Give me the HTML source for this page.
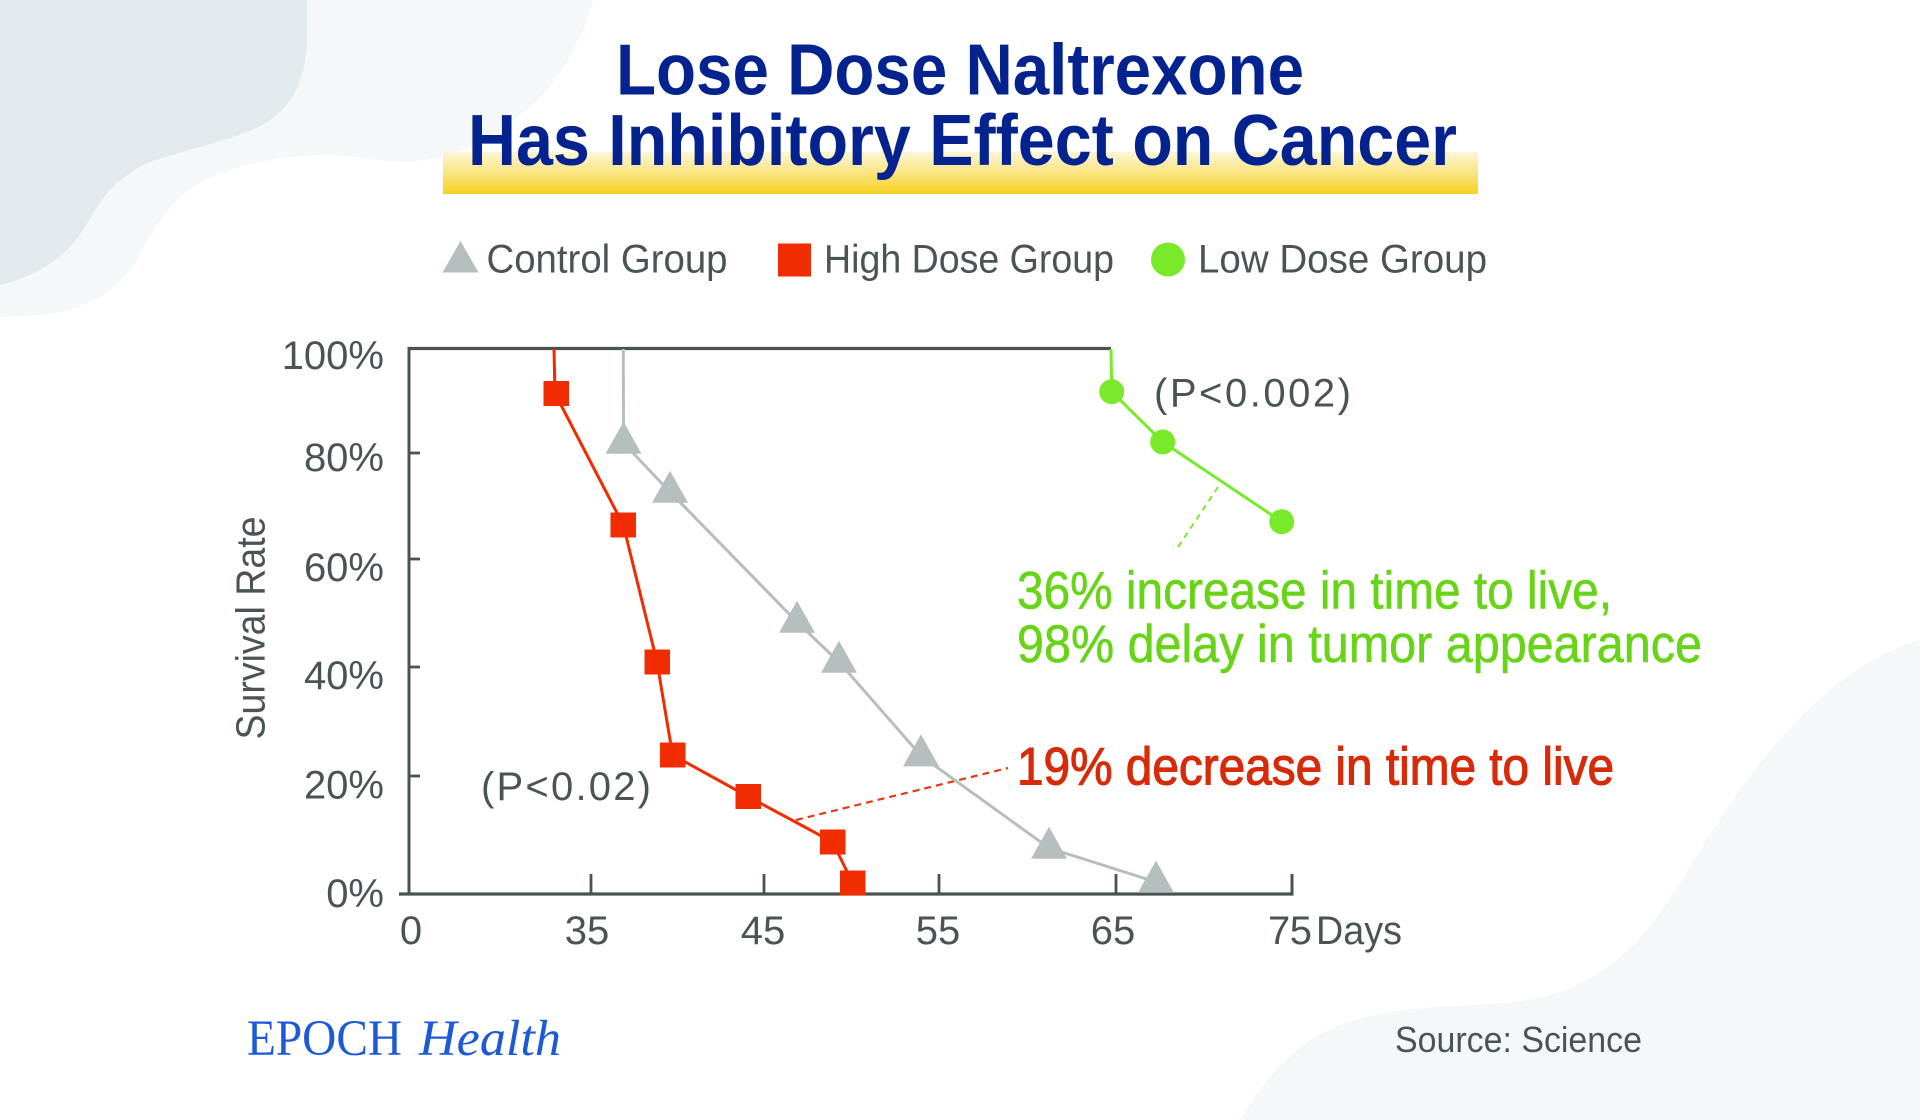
<!DOCTYPE html>
<html>
<head>
<meta charset="utf-8">
<style>
  html,body{margin:0;padding:0;background:#ffffff;width:1920px;height:1120px;overflow:hidden;}
  svg{display:block;}
</style>
</head>
<body>
<svg width="1920" height="1120" viewBox="0 0 1920 1120" xmlns="http://www.w3.org/2000/svg" font-family="'Liberation Sans', Arial, sans-serif">
  <defs>
    <linearGradient id="yel" x1="0" y1="0" x2="0" y2="1">
      <stop offset="0" stop-color="#fdf7d6"/>
      <stop offset="0.45" stop-color="#fae68a"/>
      <stop offset="1" stop-color="#f8d21f"/>
    </linearGradient>
  </defs>

  <!-- background -->
  <rect x="0" y="0" width="1920" height="1120" fill="#ffffff"/>
  <path d="M0 0 L594 0 C580 45 555 90 520 115 C490 140 450 160 408 162 C380 162 350 154 320 155 C280 156 235 165 205 180 C175 195 155 225 138 258 C122 288 90 310 41 315 L0 317 Z" fill="#f5f8f9"/>
  <path d="M0 0 L307 0 L307 40 C305 75 298 100 270 120 C245 138 200 145 150 162 C115 178 100 200 88 222 C70 255 40 275 0 285 Z" fill="#e3eaee"/>
  <path d="M1920 640 C1850 660 1790 720 1740 790 C1690 860 1660 930 1610 965 C1570 995 1530 1003 1470 1005 C1400 1008 1350 1015 1310 1040 C1275 1065 1255 1095 1240 1120 L1920 1120 Z" fill="#f5f8f9"/>

  <!-- title -->
  <rect x="443" y="152" width="1035" height="42" fill="url(#yel)"/>
  <text x="616" y="94.5" font-size="72" font-weight="bold" fill="#05238e" textLength="688" lengthAdjust="spacingAndGlyphs">Lose Dose Naltrexone</text>
  <text x="468" y="165" font-size="72" font-weight="bold" fill="#05238e" textLength="989" lengthAdjust="spacingAndGlyphs">Has Inhibitory Effect on Cancer</text>

  <!-- legend -->
  <polygon points="460.5,241 478.5,272.5 442.5,272.5" fill="#b7bebe"/>
  <text x="486.5" y="272.3" font-size="40" fill="#4b5455" textLength="241" lengthAdjust="spacingAndGlyphs">Control Group</text>
  <rect x="778" y="243.5" width="33" height="33" fill="#f02c00"/>
  <text x="824" y="272.3" font-size="40" fill="#4b5455" textLength="290" lengthAdjust="spacingAndGlyphs">High Dose Group</text>
  <circle cx="1168" cy="259.5" r="17" fill="#78ea2a"/>
  <text x="1198" y="272.3" font-size="40" fill="#4b5455" textLength="289" lengthAdjust="spacingAndGlyphs">Low Dose Group</text>

  <!-- axes -->
  <g stroke="#4a5354" fill="none">
    <line x1="407.5" y1="348.5" x2="1111" y2="348.5" stroke-width="3.3"/>
    <line x1="409" y1="347" x2="409" y2="895.5" stroke-width="3"/>
    <line x1="399" y1="894" x2="1293.5" y2="894" stroke-width="3.3"/>
    <line x1="1292" y1="874" x2="1292" y2="895" stroke-width="3"/>
    <g stroke-width="2.8">
      <line x1="409" y1="453" x2="420" y2="453"/>
      <line x1="409" y1="559" x2="420" y2="559"/>
      <line x1="409" y1="667" x2="420" y2="667"/>
      <line x1="409" y1="776" x2="420" y2="776"/>
      <line x1="591" y1="874" x2="591" y2="894"/>
      <line x1="764" y1="874" x2="764" y2="894"/>
      <line x1="939" y1="874" x2="939" y2="894"/>
      <line x1="1116" y1="874" x2="1116" y2="894"/>
    </g>
  </g>

  <!-- y labels -->
  <g font-size="40" fill="#4b5455" text-anchor="end">
    <text x="384" y="369">100%</text>
    <text x="384" y="471">80%</text>
    <text x="384" y="581">60%</text>
    <text x="384" y="689">40%</text>
    <text x="384" y="798.5">20%</text>
    <text x="384" y="907">0%</text>
  </g>
  <!-- x labels -->
  <g font-size="40" fill="#4b5455" text-anchor="middle">
    <text x="411" y="944">0</text>
    <text x="587" y="944">35</text>
    <text x="763" y="944">45</text>
    <text x="938" y="944">55</text>
    <text x="1113" y="944">65</text>
    <text x="1290" y="944" textLength="44" lengthAdjust="spacing">75</text>
  </g>
  <text x="1316" y="944" font-size="40" fill="#4b5455" textLength="86" lengthAdjust="spacingAndGlyphs">Days</text>

  <!-- y axis title -->
  <text transform="translate(264.5,628) rotate(-90)" x="0" y="0" font-size="41" fill="#4b5455" text-anchor="middle" textLength="223" lengthAdjust="spacingAndGlyphs">Survival Rate</text>

  <!-- dashed callouts -->
  <line x1="1218" y1="487" x2="1176" y2="550" stroke="#78ea2a" stroke-width="2" stroke-dasharray="6 5"/>
  <line x1="796" y1="820" x2="1008" y2="768" stroke="#e23a12" stroke-width="2.2" stroke-dasharray="7 5"/>

  <!-- control group (gray) -->
  <polyline points="623.3,349 623.5,443 670,492 797,622 839,662 921,755.7 1049,848 1156,882" fill="none" stroke="#b7bebe" stroke-width="3" stroke-linejoin="round"/>
  <g fill="#b7bebe">
    <polygon points="623.5,421.7 641.5,453.7 605.5,453.7"/>
    <polygon points="670,470.7 688,502.7 652,502.7"/>
    <polygon points="797,600.7 815,632.7 779,632.7"/>
    <polygon points="839,640.7 857,672.7 821,672.7"/>
    <polygon points="921,734.4 939,766.4 903,766.4"/>
    <polygon points="1049,826.7 1067,858.7 1031,858.7"/>
    <polygon points="1156,860.7 1174,892.7 1138,892.7"/>
  </g>

  <!-- high dose (red) -->
  <polyline points="554,349 555,393.5 623.3,525 657,662 672.6,755 748,796.5 832.6,842 852.6,883" fill="none" stroke="#f02c00" stroke-width="3" stroke-linejoin="round"/>
  <g fill="#f02c00">
    <rect x="543.5" y="381" width="25.5" height="25"/>
    <rect x="610.5" y="512.5" width="25.5" height="25"/>
    <rect x="644.5" y="649.5" width="25.5" height="25"/>
    <rect x="660" y="742.5" width="25.5" height="25"/>
    <rect x="735.5" y="784" width="25.5" height="25"/>
    <rect x="820" y="829.5" width="25.5" height="25"/>
    <rect x="840" y="870.5" width="25.5" height="25"/>
  </g>

  <!-- low dose (green) -->
  <polyline points="1111,349 1111.7,391.7 1162.7,442 1281.7,521.7" fill="none" stroke="#78ea2a" stroke-width="3" stroke-linejoin="round"/>
  <g fill="#78ea2a">
    <circle cx="1111.7" cy="391.7" r="12.5"/>
    <circle cx="1162.7" cy="442" r="12.5"/>
    <circle cx="1281.7" cy="521.7" r="12.5"/>
  </g>

  <!-- p-values -->
  <text x="1154" y="406.7" font-size="40" fill="#4b5455" textLength="197" lengthAdjust="spacing">(P&lt;0.002)</text>
  <text x="481" y="800" font-size="40" fill="#4b5455" textLength="170" lengthAdjust="spacing">(P&lt;0.02)</text>

  <!-- annotations -->
  <text x="1017" y="608.3" font-size="53" fill="#68d418" stroke="#68d418" stroke-width="0.6" textLength="595" lengthAdjust="spacingAndGlyphs">36% increase in time to live,</text>
  <text x="1017" y="662" font-size="53" fill="#68d418" stroke="#68d418" stroke-width="0.6" textLength="685" lengthAdjust="spacingAndGlyphs">98% delay in tumor appearance</text>
  <text x="1017" y="784.5" font-size="53" fill="#d62a08" stroke="#d62a08" stroke-width="1.1" textLength="597" lengthAdjust="spacingAndGlyphs">19% decrease in time to live</text>

  <!-- footer -->
  <text x="247" y="1055" font-family="'Liberation Serif', 'Times New Roman', serif" font-size="51" fill="#1d5ad6" textLength="155" lengthAdjust="spacingAndGlyphs">EPOCH</text>
  <text x="419" y="1055" font-family="'Liberation Serif', 'Times New Roman', serif" font-size="51" font-style="italic" fill="#1d5ad6" textLength="142" lengthAdjust="spacingAndGlyphs">Health</text>
  <text x="1395" y="1052" font-size="36" fill="#4b5455" textLength="247" lengthAdjust="spacingAndGlyphs">Source: Science</text>
</svg>
</body>
</html>
